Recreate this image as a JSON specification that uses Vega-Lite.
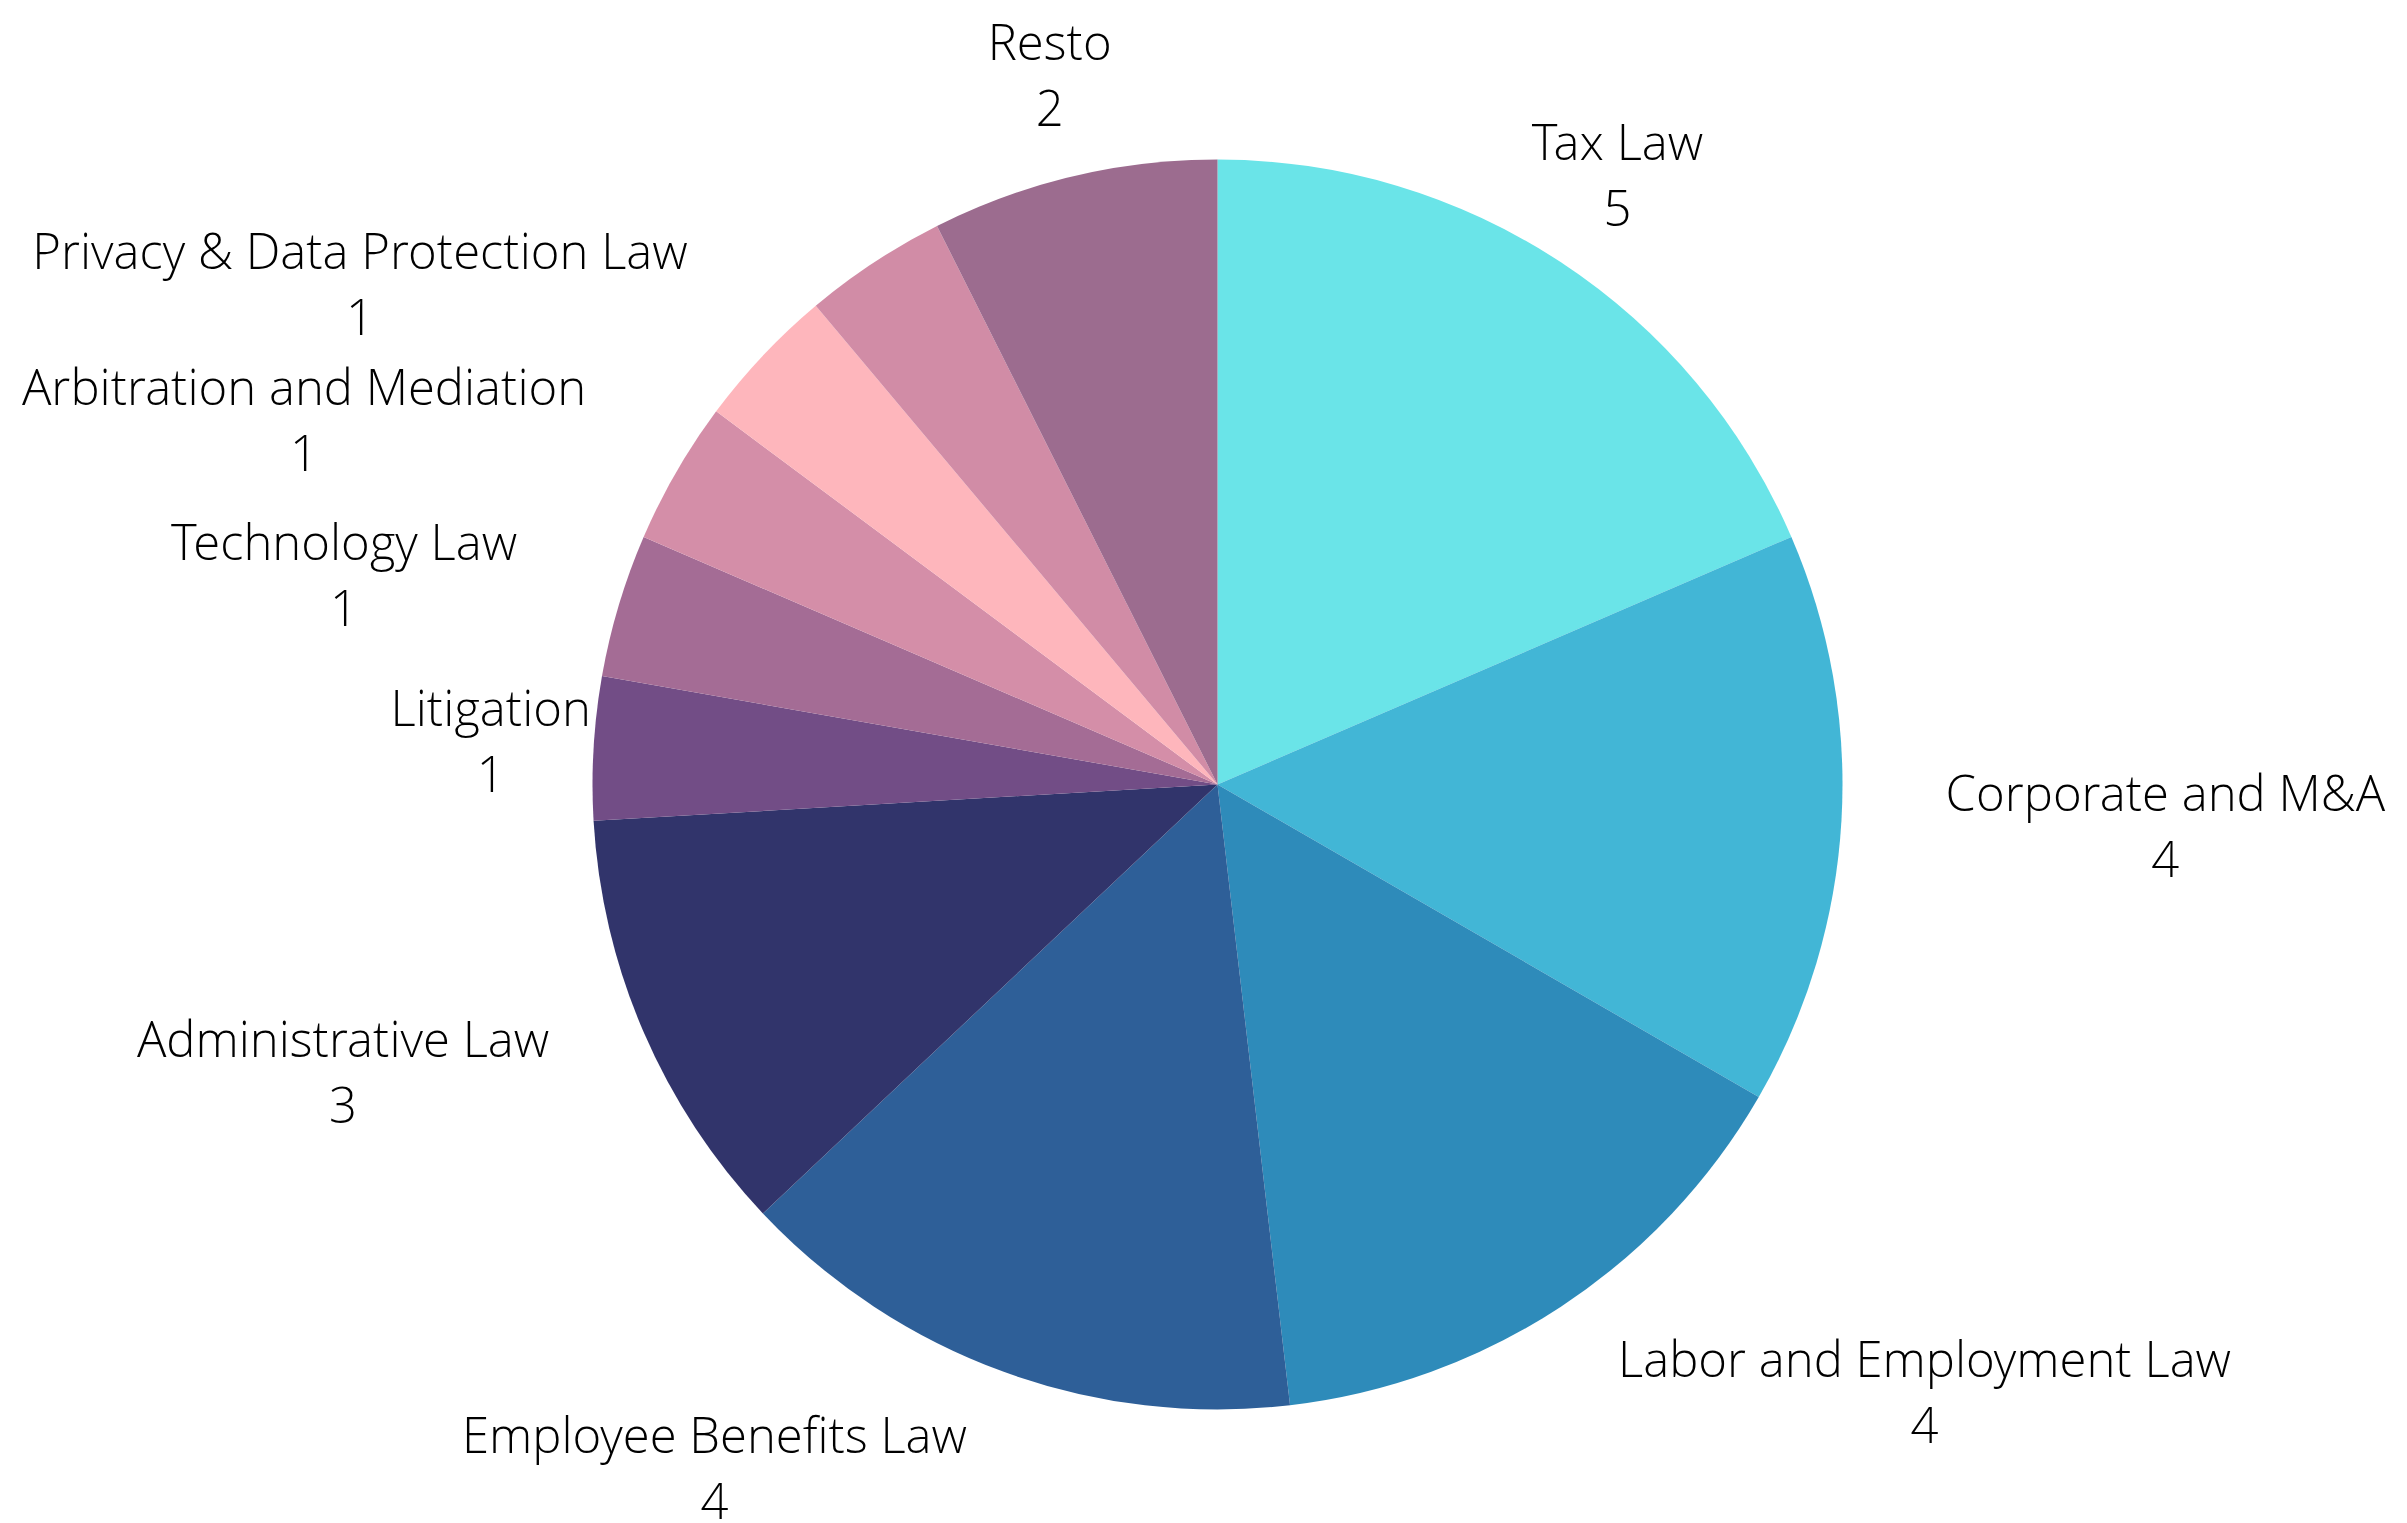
{
  "$schema": "https://vega.github.io/schema/vega-lite/v6.json",
  "width": 2407,
  "height": 1523,
  "autosize": {"type": "fit", "contains": "padding"},
  "padding": {"left": 28, "top": 44, "right": 0, "bottom": 0},
  "background": "white",
  "config": {"view": {"stroke": null}},
  "data": {
    "values": [
      {"rank": 1, "category": "Tax Law", "count": 5},
      {"rank": 2, "category": "Corporate and M&A", "count": 4},
      {"rank": 3, "category": "Labor and Employment Law", "count": 4},
      {"rank": 4, "category": "Employee Benefits Law", "count": 4},
      {"rank": 5, "category": "Administrative Law", "count": 3},
      {"rank": 6, "category": "Litigation", "count": 1},
      {"rank": 7, "category": "Technology Law", "count": 1},
      {"rank": 8, "category": "Arbitration and Mediation", "count": 1},
      {"rank": 9, "category": "Privacy & Data Protection Law", "count": 1},
      {"rank": 10, "category": "Other", "count": 1},
      {"rank": 11, "category": "Resto", "count": 2}
    ]
  },
  "encoding": {
    "theta": {"field": "count", "type": "quantitative", "stack": true},
    "order": {"field": "rank", "type": "quantitative"}
  },
  "layer": [
    {
      "mark": {"type": "arc", "outerRadius": 625},
      "encoding": {
        "color": {
          "field": "category",
          "type": "nominal",
          "legend": null,
          "scale": {
            "domain": ["Tax Law", "Corporate and M&A", "Labor and Employment Law", "Employee Benefits Law", "Administrative Law", "Litigation", "Technology Law", "Arbitration and Mediation", "Privacy & Data Protection Law", "Other", "Resto"],
            "range": ["#6ae4e8", "#42b6d6", "#2e8bba", "#2e5f98", "#31346b", "#724d86", "#a46c95", "#d48ea8", "#feb6bc", "#d18ca6", "#9c6c8f"]
          }
        }
      }
    },
    {
      "transform": [
        {"calculate": "datum.category === 'Other' ? '' : datum.category + '\\n' + datum.count", "as": "label"}
      ],
      "mark": {
        "type": "text",
        "radius": 728,
        "font": "'Open Sans Light', 'Open Sans'",
        "fontWeight": 300,
        "fontSize": 49,
        "lineHeight": 66,
        "lineBreak": "\n",
        "align": "center",
        "baseline": "middle",
        "color": "#000000",
        "dx": {"expr": "datum.category === 'Privacy & Data Protection Law' ? -328 : datum.category === 'Arbitration and Mediation' ? -283 : datum.category === 'Technology Law' ? -176 : datum.category === 'Administrative Law' ? -206 : datum.category === 'Employee Benefits Law' ? -254 : datum.category === 'Labor and Employment Law' ? 307 : datum.category === 'Corporate and M&A' ? 221 : 0"},
        "dy": -31
      },
      "encoding": {
        "text": {"field": "label", "type": "nominal"}
      }
    }
  ]
}
